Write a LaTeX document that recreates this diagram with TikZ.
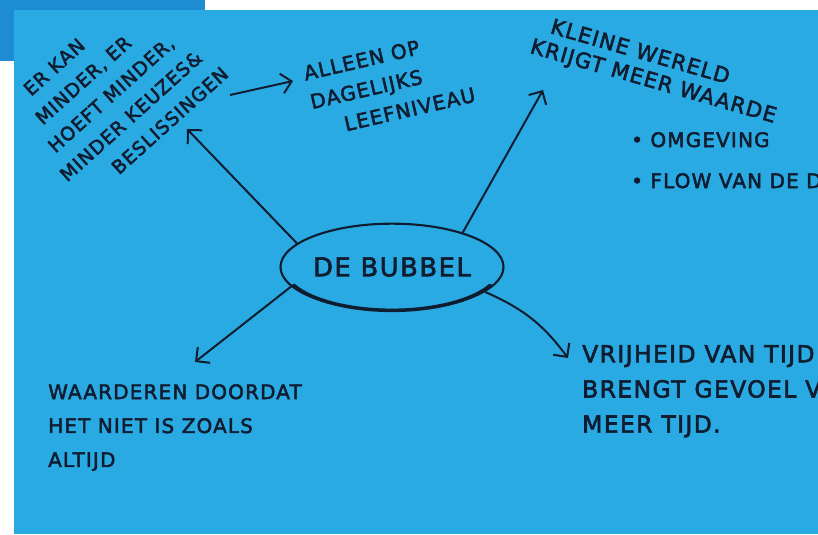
\documentclass[tikz,border=0pt]{standalone}
\usepackage{fontspec}
\setmainfont{DejaVu Sans}[LetterSpace=6,FakeBold=2.5]
\usetikzlibrary{shapes.geometric,arrows.meta}
\definecolor{paper}{RGB}{42,170,226}
\definecolor{corner}{RGB}{30,140,210}
\definecolor{ink}{RGB}{16,28,48}
\begin{document}
\begin{tikzpicture}[x=0.03cm,y=-0.03cm,
	hand/.style={text=ink,inner sep=0pt,align=left,font=\fontsize{17}{25}\selectfont},
	pijl/.style={draw=ink,line width=1.7pt,-{Straight Barb[length=3mm,width=6mm]}}]
	    \useasboundingbox (0,0) rectangle (818,534);
	    \fill[white] (0,0) rectangle (818,534);
	    \fill[corner] (0,0) rectangle (205,61);
	    \fill[paper] (14,10) rectangle (818,534);
	    \node[draw=ink,line width=1.8pt,ellipse,inner sep=0pt,minimum width=6.5cm,minimum height=2.6cm,text=ink,font=\fontsize{22}{26}\selectfont] (bubble) at (392,267) {DE BUBBEL};
	    \draw[ink,line width=3pt,line cap=round] ([shift={(205:3.25cm and 1.3cm)}]bubble.center) arc[start angle=205,end angle=335,x radius=3.25cm,y radius=1.3cm];
	    \node[hand,rotate=42,anchor=north west,font=\fontsize{16}{25}\selectfont] (keuzes) at (-1,107) {\hspace*{26pt}ER KAN\\\hspace*{17pt}MINDER, ER\\\hspace*{9pt}HOEFT MINDER,\\MINDER KEUZES\&\\\hspace*{37pt}BESLISSINGEN};
	    \node[hand,rotate=13,anchor=north west] (alleen) at (302,66) {ALLEEN OP\\DAGELIJKS\\\hspace*{24pt}LEEFNIVEAU};
	    \node[hand,rotate=-16,anchor=north west,font=\fontsize{18}{21}\selectfont] (wereld) at (540,14) {\hspace*{12pt}KLEINE WERELD\\KRIJGT MEER WAARDE};
	    \node[hand,anchor=base west] (omgeving) at (631,147) {• OMGEVING};
	    \node[hand,anchor=base west] (flow) at (631,188) {• FLOW VAN DE DAG};
	    \node[hand,anchor=north west,font=\fontsize{17}{29}\selectfont] (waarderen) at (48,384) {WAARDEREN DOORDAT\\HET NIET IS ZOALS\\ALTIJD};
	    \node[hand,anchor=north west,font=\fontsize{20}{30}\selectfont] (vrijheid) at (582,345) {VRIJHEID VAN TIJD\\BRENGT GEVOEL VAN\\MEER TIJD.};
	    \coordinate (c1) at (187,129);
	    \coordinate (c2) at (543,90);
	    \coordinate (c3) at (195,362);
	    \coordinate (c4) at (568,358);
	    \coordinate (c5) at (230,95);
	    \coordinate (c6) at (293,81);
	    \draw[pijl] (bubble.166) -- (c1);
	    \draw[pijl] (bubble.26) -- (c2);
	    \draw[pijl] (bubble.191) -- (c3);
	    \draw[pijl] (bubble.345) to[bend left=15] (c4);
	    \draw[pijl] (c5) -- (c6);
\end{tikzpicture}
\end{document}
